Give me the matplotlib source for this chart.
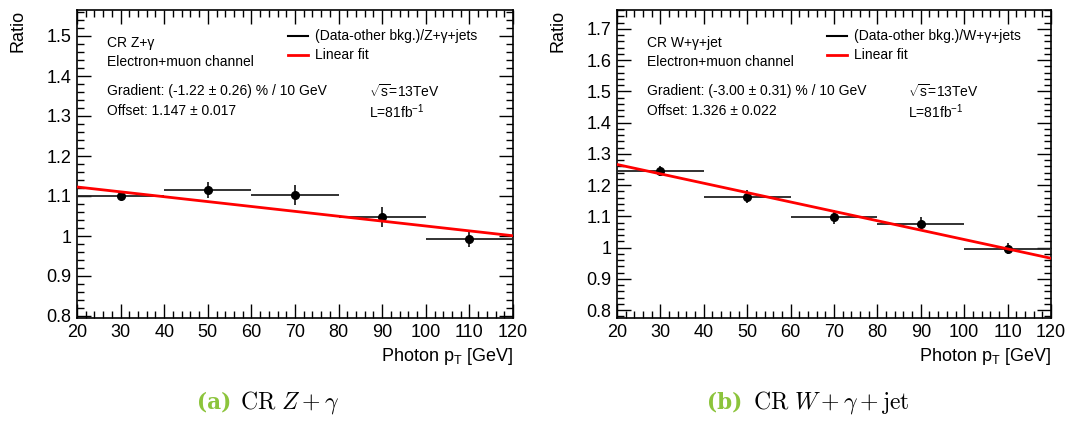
import matplotlib
matplotlib.use("Agg")
import matplotlib.pyplot as plt
from matplotlib.ticker import MultipleLocator, FixedLocator
from matplotlib.lines import Line2D
import numpy as np

plt.rcParams['font.family'] = ['Liberation Sans', 'DejaVu Sans']
plt.rcParams['mathtext.fontset'] = 'custom'
plt.rcParams['mathtext.rm'] = 'Liberation Sans'
plt.rcParams['mathtext.it'] = 'Liberation Sans:italic'

# ---- data ----
bin_centers = [30, 50, 70, 90, 110]
bin_halfwidth = [10, 10, 10, 10, 10]

z_ratio = [1.100, 1.115, 1.103, 1.047, 0.993]
z_err = [0.010, 0.020, 0.025, 0.025, 0.020]
z_offset = 1.147
z_gradient = -1.22  # % per 10 GeV

w_ratio = [1.245, 1.163, 1.097, 1.075, 0.997]
w_err = [0.015, 0.020, 0.022, 0.022, 0.018]
w_offset = 1.326
w_gradient = -3.00  # % per 10 GeV

x_ticks = [20, 30, 40, 50, 60, 70, 80, 90, 100, 110, 120]

panels = [
    dict(ratio=z_ratio, err=z_err, offset=z_offset, grad=z_gradient,
         ylim=(0.795, 1.565), yticks=[0.8, 0.9, 1.0, 1.1, 1.2, 1.3, 1.4, 1.5],
         yticklabels=['0.8', '0.9', '1', '1.1', '1.2', '1.3', '1.4', '1.5'],
         title='CR Z+γ', leg='(Data-other bkg.)/Z+γ+jets',
         gradtxt='Gradient: (-1.22 ± 0.26) % / 10 GeV',
         offtxt='Offset: 1.147 ± 0.017',
         pos=[77/1080, 1-318/423, 436/1080, 308/423],
         cap_letter='(a)', cap_text=r'$\mathrm{CR}\ Z+\gamma$',
         cap_x1=197/1080, cap_x2=240/1080),
    dict(ratio=w_ratio, err=w_err, offset=w_offset, grad=w_gradient,
         ylim=(0.775, 1.76), yticks=[0.8, 0.9, 1.0, 1.1, 1.2, 1.3, 1.4, 1.5, 1.6, 1.7],
         yticklabels=['0.8', '0.9', '1', '1.1', '1.2', '1.3', '1.4', '1.5', '1.6', '1.7'],
         title='CR W+γ+jet', leg='(Data-other bkg.)/W+γ+jets',
         gradtxt='Gradient: (-3.00 ± 0.31) % / 10 GeV',
         offtxt='Offset: 1.326 ± 0.022',
         pos=[617/1080, 1-318/423, 434/1080, 308/423],
         cap_letter='(b)', cap_text=r'$\mathrm{CR}\ W+\gamma+\mathrm{jet}$',
         cap_x1=707/1080, cap_x2=753/1080),
]

fig = plt.figure(figsize=(10.8, 4.23), dpi=100)

for p in panels:
    ax = fig.add_axes(p['pos'])
    ax.errorbar(bin_centers, p['ratio'], xerr=bin_halfwidth, yerr=p['err'],
                fmt='o', color='black', ecolor='#222222', ms=5.5, elinewidth=1.3,
                capsize=0, zorder=3)
    xs = np.array([x_ticks[0], x_ticks[-1]], dtype=float)
    ax.plot(xs, p['offset'] + p['grad'] / 100.0 / 10.0 * xs, color='#ff0000', lw=2, zorder=4)

    ax.set_xlim(x_ticks[0], x_ticks[-1])
    ax.set_ylim(*p['ylim'])
    ax.xaxis.set_major_locator(FixedLocator(x_ticks))
    ax.xaxis.set_minor_locator(MultipleLocator(2))
    ax.yaxis.set_major_locator(FixedLocator(p['yticks']))
    ax.set_yticklabels(p['yticklabels'])
    ax.yaxis.set_minor_locator(MultipleLocator(0.02))
    ax.tick_params(which='both', direction='in', top=True, right=True, labelsize=13, width=1, color='black')
    ax.tick_params(which='major', length=10, pad=4)
    ax.tick_params(which='minor', length=5)
    for s in ax.spines.values():
        s.set_linewidth(1.2)

    ax.set_ylabel('Ratio', fontsize=13, loc='top', labelpad=14)
    ax.set_xlabel(r'Photon p$_\mathrm{T}$ [GeV]', fontsize=13, loc='right', labelpad=4)

    fs = 10
    dy = -0.011
    ax.text(0.068, 0.905 + dy, p['title'], transform=ax.transAxes, fontsize=fs, va='center')
    ax.text(0.068, 0.843 + dy, 'Electron+muon channel', transform=ax.transAxes, fontsize=fs, va='center')
    ax.text(0.068, 0.747 + dy, p['gradtxt'], transform=ax.transAxes, fontsize=fs, va='center')
    ax.text(0.068, 0.682 + dy, p['offtxt'], transform=ax.transAxes, fontsize=fs, va='center')
    ax.text(0.67, 0.747 + dy, r'$\sqrt{\mathrm{s}}$=13TeV', transform=ax.transAxes, fontsize=fs, va='center')
    ax.text(0.67, 0.682 + dy, r'L=81fb$^{\mathrm{-1}}$', transform=ax.transAxes, fontsize=fs, va='center')

    # legend
    ax.add_line(Line2D([0.485, 0.53], [0.925 + dy, 0.925 + dy], transform=ax.transAxes, color='black', lw=1.5))
    ax.add_line(Line2D([0.485, 0.53], [0.865 + dy, 0.865 + dy], transform=ax.transAxes, color='#ff0000', lw=2))
    ax.text(0.545, 0.925 + dy, p['leg'], transform=ax.transAxes, fontsize=fs, va='center')
    ax.text(0.545, 0.865 + dy, 'Linear fit', transform=ax.transAxes, fontsize=fs, va='center')

    # caption
    cy = 1 - 402/423
    fig.text(p['cap_x1'], cy, p['cap_letter'], fontsize=15.5, color='#8cc43c',
             fontweight='bold', family='DejaVu Serif', va='center', ha='left')
    fig.text(p['cap_x2'], cy, p['cap_text'], fontsize=17,
             va='center', ha='left', math_fontfamily='cm')

fig.savefig('out.png', dpi=100)
